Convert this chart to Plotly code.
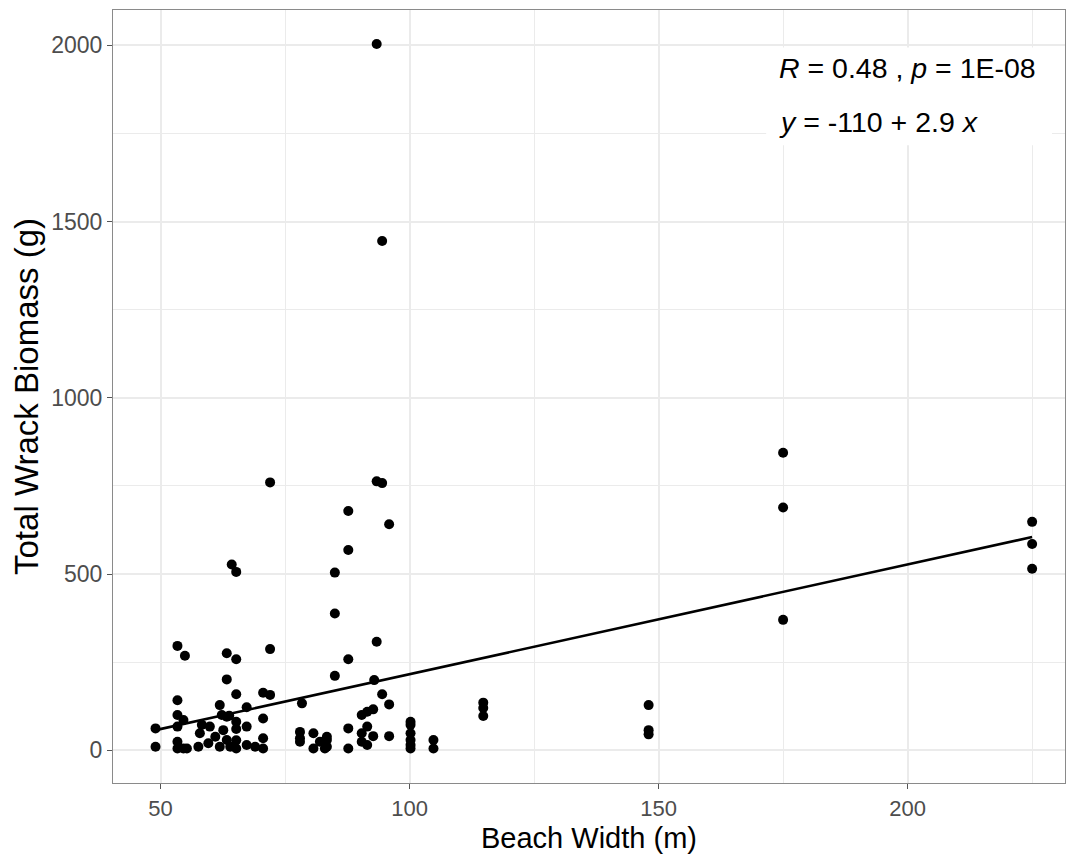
import plotly.graph_objects as go

# Beach width (m) and total wrack biomass (g)
beach_width = [
    49.0, 49.0,
    53.4, 53.4, 53.4, 53.4, 53.4, 53.4,
    54.6, 54.6, 54.9, 55.3, 57.6, 57.9, 58.3, 59.6, 59.9, 61.0,
    61.9, 61.9, 62.3, 62.6, 63.3, 63.3, 63.3, 63.3, 63.8, 64.0,
    64.3, 65.2, 65.2, 65.2, 65.2, 65.2, 65.2, 65.2,
    67.3, 67.3, 67.3, 69.0, 70.6, 70.6, 70.6, 70.6,
    72.0, 72.0, 72.0,
    78.4, 78.0, 78.0, 78.0, 80.7, 80.7, 82.0, 83.0, 83.4, 83.4, 83.4,
    85.0, 85.0, 85.0,
    87.7, 87.7, 87.7, 87.7, 87.7,
    90.4, 90.4, 90.4, 91.5, 91.5, 91.5, 92.7, 92.7, 92.9,
    93.4, 93.4, 93.4, 94.5, 94.5, 94.5, 95.9, 95.9, 95.9,
    100.2, 100.2, 100.2, 100.2, 100.2, 100.2,
    104.8, 104.8,
    114.8, 114.8, 114.8,
    148.0, 148.0, 148.0,
    175.0, 175.0, 175.0,
    225.0, 225.0, 225.0,
]
wrack_biomass = [
    62, 10,
    296, 142, 100, 67, 24, 5,
    86, 5, 268, 5, 10, 48, 72, 20, 67, 38,
    10, 128, 100, 57, 275, 201, 29, 95, 98, 10,
    527, 506, 258, 159, 81, 60, 28, 5,
    122, 67, 15, 10, 163, 90, 34, 5,
    760, 287, 157,
    133, 52, 34, 24, 48, 5, 24, 5, 29, 38, 10,
    504, 388, 211,
    679, 568, 258, 62, 5,
    100, 48, 24, 109, 67, 15, 116, 40, 199,
    2004, 763, 308, 1445, 758, 159, 641, 130, 40,
    81, 72, 48, 29, 15, 5,
    29, 5,
    135, 120, 97,
    128, 57, 45,
    844, 689, 370,
    648, 585, 515,
]

# Fitted regression line (end points)
fit_x = [49, 225]
fit_y = [57, 605]

x_ticks = [50, 100, 150, 200]
y_ticks = [0, 500, 1000, 1500, 2000]

stat_line1 = "<i>R</i> = 0.48 , <i>p</i> = 1E-08"
stat_line2 = "<i>y</i> = -110 + 2.9 <i>x</i>"

FONT = "Liberation Sans, Arial, Helvetica, sans-serif"

fig = go.Figure()
fig.add_trace(go.Scatter(
    x=beach_width, y=wrack_biomass, mode="markers",
    marker=dict(color="black", size=10, line=dict(width=0)),
    showlegend=False, hoverinfo="x+y",
))
fig.add_trace(go.Scatter(
    x=fit_x, y=fit_y, mode="lines",
    line=dict(color="black", width=2.6),
    showlegend=False,
))

# white label box behind the statistics text
fig.add_shape(type="rect", xref="x", yref="y",
              x0=171.6, x1=229.0, y0=1717, y1=1994,
              fillcolor="white", line=dict(width=0), layer="above")
fig.add_annotation(x=173.8, y=1936, xref="x", yref="y", text=stat_line1,
                   showarrow=False, xanchor="left", yanchor="middle",
                   font=dict(family=FONT, size=28.5, color="black"))
fig.add_annotation(x=173.8, y=1784, xref="x", yref="y", text=stat_line2,
                   showarrow=False, xanchor="left", yanchor="middle",
                   font=dict(family=FONT, size=28.5, color="black"))

grid_col = "#ebebeb"
fig.update_layout(
    width=1067, height=854,
    margin=dict(l=113, r=2, t=10, b=71),
    paper_bgcolor="white", plot_bgcolor="white",
    font=dict(family=FONT, color="black"),
    xaxis=dict(
        range=[40.46, 231.6], tickvals=x_ticks, ticktext=[str(v) for v in x_ticks],
        showgrid=True, gridcolor=grid_col, gridwidth=1.6,
        minor=dict(dtick=25, tick0=25, showgrid=True, gridcolor=grid_col, gridwidth=0.9),
        ticks="outside", ticklen=5, tickcolor="#555555", tickwidth=1,
        tickfont=dict(size=22, color="#4d4d4d"),
        showline=True, linecolor="#8a8a8a", linewidth=1.2, mirror=True,
        zeroline=False,
        title=dict(text="Beach Width (m)", font=dict(size=29, color="black"), standoff=8),
    ),
    yaxis=dict(
        range=[-93, 2100.5], tickvals=y_ticks, ticktext=[str(v) for v in y_ticks],
        showgrid=True, gridcolor=grid_col, gridwidth=1.6,
        minor=dict(dtick=250, tick0=250, showgrid=True, gridcolor=grid_col, gridwidth=0.9),
        ticks="outside", ticklen=5, tickcolor="#555555", tickwidth=1,
        tickfont=dict(size=23, color="#4d4d4d"),
        showline=True, linecolor="#8a8a8a", linewidth=1.2, mirror=True,
        zeroline=False,
        title=dict(text="Total Wrack Biomass (g)", font=dict(size=33, color="black"), standoff=2),
    ),
)

fig.write_html("out.html")
